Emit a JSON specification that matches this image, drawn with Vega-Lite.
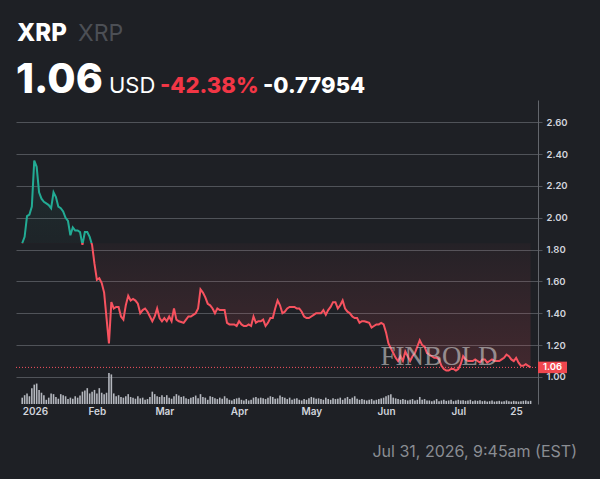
{
  "$schema": "https://vega.github.io/schema/vega-lite/v6.json",
  "description": "XRP price chart, Jan-Jul 2026",
  "width": 522,
  "height": 304,
  "autosize": {"type": "none"},
  "padding": {"left": 16, "top": 100, "right": 62, "bottom": 75},
  "background": "#1e2025",
  "config": {"view": {"stroke": null}, "font": "Inter"},
  "data": {
    "values": [
      {"date": "2026-01-01", "price": 1.84, "volume": 18},
      {"date": "2026-01-02", "price": 1.88, "volume": 25},
      {"date": "2026-01-03", "price": 2.01, "volume": 30},
      {"date": "2026-01-04", "price": 2.02, "volume": 22},
      {"date": "2026-01-05", "price": 2.07, "volume": 45},
      {"date": "2026-01-06", "price": 2.36, "volume": 55},
      {"date": "2026-01-07", "price": 2.32, "volume": 58},
      {"date": "2026-01-08", "price": 2.16, "volume": 40},
      {"date": "2026-01-09", "price": 2.12, "volume": 32},
      {"date": "2026-01-10", "price": 2.10, "volume": 25},
      {"date": "2026-01-11", "price": 2.09, "volume": 12},
      {"date": "2026-01-12", "price": 2.08, "volume": 18},
      {"date": "2026-01-13", "price": 2.06, "volume": 30},
      {"date": "2026-01-14", "price": 2.16, "volume": 28},
      {"date": "2026-01-15", "price": 2.13, "volume": 20},
      {"date": "2026-01-16", "price": 2.07, "volume": 15},
      {"date": "2026-01-17", "price": 2.06, "volume": 28},
      {"date": "2026-01-18", "price": 2.04, "volume": 25},
      {"date": "2026-01-19", "price": 2.00, "volume": 22},
      {"date": "2026-01-20", "price": 1.98, "volume": 14},
      {"date": "2026-01-21", "price": 1.89, "volume": 18},
      {"date": "2026-01-22", "price": 1.94, "volume": 15},
      {"date": "2026-01-23", "price": 1.92, "volume": 22},
      {"date": "2026-01-24", "price": 1.92, "volume": 18},
      {"date": "2026-01-25", "price": 1.91, "volume": 24},
      {"date": "2026-01-26", "price": 1.83, "volume": 35},
      {"date": "2026-01-27", "price": 1.91, "volume": 38},
      {"date": "2026-01-28", "price": 1.91, "volume": 45},
      {"date": "2026-01-29", "price": 1.88, "volume": 30},
      {"date": "2026-01-30", "price": 1.83, "volume": 35},
      {"date": "2026-01-31", "price": 1.71, "volume": 40},
      {"date": "2026-02-01", "price": 1.61, "volume": 30},
      {"date": "2026-02-02", "price": 1.62, "volume": 45},
      {"date": "2026-02-03", "price": 1.59, "volume": 32},
      {"date": "2026-02-04", "price": 1.53, "volume": 28},
      {"date": "2026-02-05", "price": 1.37, "volume": 32},
      {"date": "2026-02-06", "price": 1.21, "volume": 88},
      {"date": "2026-02-07", "price": 1.47, "volume": 84},
      {"date": "2026-02-08", "price": 1.43, "volume": 30},
      {"date": "2026-02-09", "price": 1.44, "volume": 22},
      {"date": "2026-02-10", "price": 1.44, "volume": 25},
      {"date": "2026-02-11", "price": 1.38, "volume": 20},
      {"date": "2026-02-12", "price": 1.36, "volume": 18},
      {"date": "2026-02-13", "price": 1.45, "volume": 22},
      {"date": "2026-02-14", "price": 1.51, "volume": 28},
      {"date": "2026-02-15", "price": 1.48, "volume": 20},
      {"date": "2026-02-16", "price": 1.49, "volume": 18},
      {"date": "2026-02-17", "price": 1.48, "volume": 15},
      {"date": "2026-02-18", "price": 1.46, "volume": 22},
      {"date": "2026-02-19", "price": 1.40, "volume": 16},
      {"date": "2026-02-20", "price": 1.42, "volume": 18},
      {"date": "2026-02-21", "price": 1.43, "volume": 12},
      {"date": "2026-02-22", "price": 1.41, "volume": 14},
      {"date": "2026-02-23", "price": 1.38, "volume": 20},
      {"date": "2026-02-24", "price": 1.35, "volume": 35},
      {"date": "2026-02-25", "price": 1.38, "volume": 28},
      {"date": "2026-02-26", "price": 1.43, "volume": 22},
      {"date": "2026-02-27", "price": 1.37, "volume": 20},
      {"date": "2026-02-28", "price": 1.35, "volume": 25},
      {"date": "2026-03-01", "price": 1.37, "volume": 20},
      {"date": "2026-03-02", "price": 1.35, "volume": 25},
      {"date": "2026-03-03", "price": 1.38, "volume": 18},
      {"date": "2026-03-04", "price": 1.35, "volume": 15},
      {"date": "2026-03-05", "price": 1.43, "volume": 22},
      {"date": "2026-03-06", "price": 1.36, "volume": 28},
      {"date": "2026-03-07", "price": 1.35, "volume": 24},
      {"date": "2026-03-08", "price": 1.345, "volume": 20},
      {"date": "2026-03-09", "price": 1.34, "volume": 22},
      {"date": "2026-03-10", "price": 1.36, "volume": 16},
      {"date": "2026-03-11", "price": 1.38, "volume": 14},
      {"date": "2026-03-12", "price": 1.38, "volume": 18},
      {"date": "2026-03-13", "price": 1.39, "volume": 20},
      {"date": "2026-03-14", "price": 1.40, "volume": 24},
      {"date": "2026-03-15", "price": 1.43, "volume": 16},
      {"date": "2026-03-16", "price": 1.55, "volume": 28},
      {"date": "2026-03-17", "price": 1.53, "volume": 20},
      {"date": "2026-03-18", "price": 1.50, "volume": 18},
      {"date": "2026-03-19", "price": 1.46, "volume": 12},
      {"date": "2026-03-20", "price": 1.45, "volume": 22},
      {"date": "2026-03-21", "price": 1.43, "volume": 20},
      {"date": "2026-03-22", "price": 1.40, "volume": 16},
      {"date": "2026-03-23", "price": 1.43, "volume": 14},
      {"date": "2026-03-24", "price": 1.42, "volume": 18},
      {"date": "2026-03-25", "price": 1.42, "volume": 15},
      {"date": "2026-03-26", "price": 1.42, "volume": 22},
      {"date": "2026-03-27", "price": 1.34, "volume": 16},
      {"date": "2026-03-28", "price": 1.33, "volume": 12},
      {"date": "2026-03-29", "price": 1.33, "volume": 10},
      {"date": "2026-03-30", "price": 1.33, "volume": 14},
      {"date": "2026-03-31", "price": 1.32, "volume": 16},
      {"date": "2026-04-01", "price": 1.35, "volume": 18},
      {"date": "2026-04-02", "price": 1.33, "volume": 12},
      {"date": "2026-04-03", "price": 1.32, "volume": 10},
      {"date": "2026-04-04", "price": 1.32, "volume": 14},
      {"date": "2026-04-05", "price": 1.33, "volume": 10},
      {"date": "2026-04-06", "price": 1.32, "volume": 12},
      {"date": "2026-04-07", "price": 1.38, "volume": 18},
      {"date": "2026-04-08", "price": 1.34, "volume": 20},
      {"date": "2026-04-09", "price": 1.35, "volume": 16},
      {"date": "2026-04-10", "price": 1.35, "volume": 18},
      {"date": "2026-04-11", "price": 1.36, "volume": 16},
      {"date": "2026-04-12", "price": 1.32, "volume": 14},
      {"date": "2026-04-13", "price": 1.34, "volume": 18},
      {"date": "2026-04-14", "price": 1.37, "volume": 22},
      {"date": "2026-04-15", "price": 1.37, "volume": 20},
      {"date": "2026-04-16", "price": 1.43, "volume": 15},
      {"date": "2026-04-17", "price": 1.48, "volume": 16},
      {"date": "2026-04-18", "price": 1.45, "volume": 24},
      {"date": "2026-04-19", "price": 1.40, "volume": 20},
      {"date": "2026-04-20", "price": 1.41, "volume": 18},
      {"date": "2026-04-21", "price": 1.43, "volume": 14},
      {"date": "2026-04-22", "price": 1.44, "volume": 18},
      {"date": "2026-04-23", "price": 1.44, "volume": 12},
      {"date": "2026-04-24", "price": 1.44, "volume": 15},
      {"date": "2026-04-25", "price": 1.43, "volume": 16},
      {"date": "2026-04-26", "price": 1.43, "volume": 12},
      {"date": "2026-04-27", "price": 1.41, "volume": 10},
      {"date": "2026-04-28", "price": 1.38, "volume": 14},
      {"date": "2026-04-29", "price": 1.37, "volume": 12},
      {"date": "2026-04-30", "price": 1.37, "volume": 16},
      {"date": "2026-05-01", "price": 1.38, "volume": 20},
      {"date": "2026-05-02", "price": 1.39, "volume": 18},
      {"date": "2026-05-03", "price": 1.40, "volume": 15},
      {"date": "2026-05-04", "price": 1.40, "volume": 16},
      {"date": "2026-05-05", "price": 1.40, "volume": 14},
      {"date": "2026-05-06", "price": 1.42, "volume": 12},
      {"date": "2026-05-07", "price": 1.39, "volume": 18},
      {"date": "2026-05-08", "price": 1.42, "volume": 14},
      {"date": "2026-05-09", "price": 1.44, "volume": 12},
      {"date": "2026-05-10", "price": 1.47, "volume": 16},
      {"date": "2026-05-11", "price": 1.47, "volume": 14},
      {"date": "2026-05-12", "price": 1.43, "volume": 15},
      {"date": "2026-05-13", "price": 1.45, "volume": 18},
      {"date": "2026-05-14", "price": 1.48, "volume": 12},
      {"date": "2026-05-15", "price": 1.43, "volume": 16},
      {"date": "2026-05-16", "price": 1.41, "volume": 20},
      {"date": "2026-05-17", "price": 1.40, "volume": 14},
      {"date": "2026-05-18", "price": 1.38, "volume": 18},
      {"date": "2026-05-19", "price": 1.37, "volume": 22},
      {"date": "2026-05-20", "price": 1.37, "volume": 15},
      {"date": "2026-05-21", "price": 1.34, "volume": 12},
      {"date": "2026-05-22", "price": 1.35, "volume": 14},
      {"date": "2026-05-23", "price": 1.35, "volume": 12},
      {"date": "2026-05-24", "price": 1.345, "volume": 10},
      {"date": "2026-05-25", "price": 1.34, "volume": 12},
      {"date": "2026-05-26", "price": 1.31, "volume": 14},
      {"date": "2026-05-27", "price": 1.32, "volume": 10},
      {"date": "2026-05-28", "price": 1.33, "volume": 12},
      {"date": "2026-05-29", "price": 1.33, "volume": 14},
      {"date": "2026-05-30", "price": 1.34, "volume": 16},
      {"date": "2026-05-31", "price": 1.33, "volume": 18},
      {"date": "2026-06-01", "price": 1.28, "volume": 22},
      {"date": "2026-06-02", "price": 1.21, "volume": 25},
      {"date": "2026-06-03", "price": 1.18, "volume": 28},
      {"date": "2026-06-04", "price": 1.15, "volume": 18},
      {"date": "2026-06-05", "price": 1.12, "volume": 16},
      {"date": "2026-06-06", "price": 1.10, "volume": 14},
      {"date": "2026-06-07", "price": 1.13, "volume": 12},
      {"date": "2026-06-08", "price": 1.10, "volume": 14},
      {"date": "2026-06-09", "price": 1.16, "volume": 12},
      {"date": "2026-06-10", "price": 1.13, "volume": 10},
      {"date": "2026-06-11", "price": 1.10, "volume": 12},
      {"date": "2026-06-12", "price": 1.13, "volume": 14},
      {"date": "2026-06-13", "price": 1.15, "volume": 10},
      {"date": "2026-06-14", "price": 1.19, "volume": 12},
      {"date": "2026-06-15", "price": 1.23, "volume": 20},
      {"date": "2026-06-16", "price": 1.20, "volume": 12},
      {"date": "2026-06-17", "price": 1.19, "volume": 14},
      {"date": "2026-06-18", "price": 1.15, "volume": 10},
      {"date": "2026-06-19", "price": 1.14, "volume": 10},
      {"date": "2026-06-20", "price": 1.13, "volume": 8},
      {"date": "2026-06-21", "price": 1.12, "volume": 10},
      {"date": "2026-06-22", "price": 1.12, "volume": 14},
      {"date": "2026-06-23", "price": 1.11, "volume": 8},
      {"date": "2026-06-24", "price": 1.07, "volume": 10},
      {"date": "2026-06-25", "price": 1.05, "volume": 12},
      {"date": "2026-06-26", "price": 1.04, "volume": 9},
      {"date": "2026-06-27", "price": 1.04, "volume": 10},
      {"date": "2026-06-28", "price": 1.05, "volume": 12},
      {"date": "2026-06-29", "price": 1.05, "volume": 8},
      {"date": "2026-06-30", "price": 1.04, "volume": 10},
      {"date": "2026-07-01", "price": 1.05, "volume": 12},
      {"date": "2026-07-02", "price": 1.08, "volume": 10},
      {"date": "2026-07-03", "price": 1.13, "volume": 11},
      {"date": "2026-07-04", "price": 1.11, "volume": 9},
      {"date": "2026-07-05", "price": 1.10, "volume": 10},
      {"date": "2026-07-06", "price": 1.10, "volume": 12},
      {"date": "2026-07-07", "price": 1.10, "volume": 8},
      {"date": "2026-07-08", "price": 1.11, "volume": 10},
      {"date": "2026-07-09", "price": 1.10, "volume": 9},
      {"date": "2026-07-10", "price": 1.09, "volume": 11},
      {"date": "2026-07-11", "price": 1.11, "volume": 8},
      {"date": "2026-07-12", "price": 1.11, "volume": 9},
      {"date": "2026-07-13", "price": 1.09, "volume": 7},
      {"date": "2026-07-14", "price": 1.10, "volume": 8},
      {"date": "2026-07-15", "price": 1.11, "volume": 10},
      {"date": "2026-07-16", "price": 1.10, "volume": 7},
      {"date": "2026-07-17", "price": 1.10, "volume": 8},
      {"date": "2026-07-18", "price": 1.10, "volume": 9},
      {"date": "2026-07-19", "price": 1.11, "volume": 7},
      {"date": "2026-07-20", "price": 1.12, "volume": 8},
      {"date": "2026-07-21", "price": 1.14, "volume": 10},
      {"date": "2026-07-22", "price": 1.13, "volume": 8},
      {"date": "2026-07-23", "price": 1.11, "volume": 7},
      {"date": "2026-07-24", "price": 1.10, "volume": 9},
      {"date": "2026-07-25", "price": 1.12, "volume": 8},
      {"date": "2026-07-26", "price": 1.09, "volume": 7},
      {"date": "2026-07-27", "price": 1.07, "volume": 8},
      {"date": "2026-07-28", "price": 1.07, "volume": 9},
      {"date": "2026-07-29", "price": 1.08, "volume": 10},
      {"date": "2026-07-30", "price": 1.07, "volume": 8},
      {"date": "2026-07-31", "price": 1.06, "volume": 9}
    ]
  },
  "encoding": {
    "x": {
      "field": "date",
      "type": "temporal",
      "scale": {
        "type": "utc",
        "domain": [
          {"year": 2025, "month": 12, "date": 31, "hours": 12, "utc": true},
          {"year": 2026, "month": 8, "date": 1, "utc": true}
        ]
      },
      "axis": {
        "values": [
          {"year": 2026, "month": 1, "date": 1, "utc": true},
          {"year": 2026, "month": 2, "date": 1, "utc": true},
          {"year": 2026, "month": 3, "date": 1, "utc": true},
          {"year": 2026, "month": 4, "date": 1, "utc": true},
          {"year": 2026, "month": 5, "date": 1, "utc": true},
          {"year": 2026, "month": 6, "date": 1, "utc": true},
          {"year": 2026, "month": 7, "date": 1, "utc": true},
          {"year": 2026, "month": 7, "date": 25, "utc": true}
        ],
        "labelExpr": "utcmonth(datum.value) == 0 && utcdate(datum.value) == 1 ? utcFormat(datum.value, '%Y') : utcdate(datum.value) == 1 ? utcFormat(datum.value, '%b') : utcFormat(datum.value, '%-d')",
        "labelAlign": {"condition": {"test": "utcmonth(datum.value) == 0", "value": "left"}, "value": "center"},
        "labelFlush": false,
        "domain": false,
        "ticks": false,
        "grid": false,
        "labelColor": "#d1d4dc",
        "labelFontSize": 10,
        "labelFontWeight": 600,
        "labelPadding": 2,
        "title": null
      }
    }
  },
  "layer": [
    {
      "mark": {"type": "bar", "size": 1.6, "color": "#b4b7be"},
      "encoding": {
        "y": {"field": "volume", "type": "quantitative", "scale": {"domain": [0, 863]}, "axis": null}
      }
    },
    {
      "encoding": {
        "y": {
          "field": "price",
          "type": "quantitative",
          "scale": {"domain": [0.83, 2.74]},
          "axis": {
            "orient": "right",
            "values": [1.0, 1.2, 1.4, 1.6, 1.8, 2.0, 2.2, 2.4, 2.6],
            "format": ".2f",
            "grid": true,
            "gridColor": "#505359",
            "gridWidth": 1,
            "domainColor": "#63666c",
            "tickColor": "#505359",
            "tickSize": 4,
            "labelColor": "#d1d4dc",
            "labelFontSize": 9.5,
            "labelFontWeight": 600,
            "labelPadding": 4,
            "title": null
          }
        }
      },
      "layer": [
        {
          "mark": {
            "type": "area",
            "fill": {
              "gradient": "linear", "x1": 0, "y1": 0, "x2": 0, "y2": 1,
              "stops": [
                {"offset": 0, "color": "rgba(34,171,148,0.10)"},
                {"offset": 0.394, "color": "rgba(34,171,148,0.03)"},
                {"offset": 0.394, "color": "rgba(247,82,95,0.03)"},
                {"offset": 1, "color": "rgba(247,82,95,0.17)"}
              ]
            }
          },
          "encoding": {
            "y2": {"datum": 1.84}
          }
        },
        {
          "mark": {
            "type": "line",
            "strokeWidth": 2,
            "stroke": {
              "gradient": "linear", "x1": 0, "y1": 0, "x2": 0, "y2": 1,
              "stops": [
                {"offset": 0, "color": "#22ab94"},
                {"offset": 0.394, "color": "#22ab94"},
                {"offset": 0.394, "color": "#f7525f"},
                {"offset": 1, "color": "#f7525f"}
              ]
            }
          },
          "encoding": {}
        },
        {
          "transform": [{"filter": "utcmonth(datum.date) == 6 && utcdate(datum.date) == 31"}],
          "mark": {"type": "rule", "color": "#f7525f", "strokeDash": [1, 2], "strokeWidth": 1},
          "encoding": {
            "x": {"value": 0},
            "x2": {"value": 522}
          }
        },
        {
          "transform": [{"filter": "utcmonth(datum.date) == 6 && utcdate(datum.date) == 31"}],
          "mark": {"type": "rect", "color": "#f0474f", "height": 11.5},
          "encoding": {
            "x": {"value": 522},
            "x2": {"value": 551}
          }
        },
        {
          "transform": [{"filter": "utcmonth(datum.date) == 6 && utcdate(datum.date) == 31"}],
          "mark": {"type": "text", "color": "#ffffff", "fontSize": 9.5, "fontWeight": 600, "align": "center", "baseline": "middle"},
          "encoding": {
            "x": {"value": 536.5},
            "text": {"field": "price", "type": "quantitative", "format": ".2f"}
          }
        }
      ]
    },
    {
      "data": {"values": [{"label": "FINBOLD"}]},
      "mark": {"type": "text", "font": "Liberation Serif", "fontSize": 27, "fontWeight": "normal", "color": "#d0d0d0", "opacity": 0.6, "align": "center", "baseline": "middle"},
      "encoding": {"x": {"value": 423}, "y": {"value": 257}, "text": {"field": "label"}}
    },
    {
      "data": {"values": [{"label": "XRP"}]},
      "mark": {"type": "text", "fontSize": 24, "fontWeight": 800, "color": "#ffffff", "align": "left", "baseline": "alphabetic"},
      "encoding": {"x": {"value": 1}, "y": {"value": -59}, "text": {"field": "label"}}
    },
    {
      "data": {"values": [{"label": "XRP"}]},
      "mark": {"type": "text", "fontSize": 23, "fontWeight": 400, "color": "#4c4f55", "align": "left", "baseline": "alphabetic"},
      "encoding": {"x": {"value": 62}, "y": {"value": -59}, "text": {"field": "label"}}
    },
    {
      "data": {"values": [{"label": "1.06"}]},
      "mark": {"type": "text", "fontSize": 41, "fontWeight": 800, "color": "#ffffff", "align": "left", "baseline": "alphabetic"},
      "encoding": {"x": {"value": 0}, "y": {"value": -7}, "text": {"field": "label"}}
    },
    {
      "data": {"values": [{"label": "USD"}]},
      "mark": {"type": "text", "fontSize": 22, "fontWeight": 400, "color": "#ffffff", "align": "left", "baseline": "alphabetic"},
      "encoding": {"x": {"value": 93}, "y": {"value": -7}, "text": {"field": "label"}}
    },
    {
      "data": {"values": [{"label": "-42.38%"}]},
      "mark": {"type": "text", "fontSize": 22, "fontWeight": 800, "color": "#f23645", "align": "left", "baseline": "alphabetic"},
      "encoding": {"x": {"value": 144}, "y": {"value": -7}, "text": {"field": "label"}}
    },
    {
      "data": {"values": [{"label": "-0.77954"}]},
      "mark": {"type": "text", "fontSize": 22, "fontWeight": 800, "color": "#ffffff", "align": "left", "baseline": "alphabetic"},
      "encoding": {"x": {"value": 247}, "y": {"value": -7}, "text": {"field": "label"}}
    },
    {
      "data": {"values": [{"label": "Jul 31, 2026, 9:45am (EST)"}]},
      "mark": {"type": "text", "fontSize": 16, "fontWeight": 400, "color": "#8a8d93", "align": "right", "baseline": "alphabetic"},
      "encoding": {"x": {"value": 561}, "y": {"value": 357}, "text": {"field": "label"}}
    }
  ],
  "resolve": {"scale": {"y": "independent"}}
}
